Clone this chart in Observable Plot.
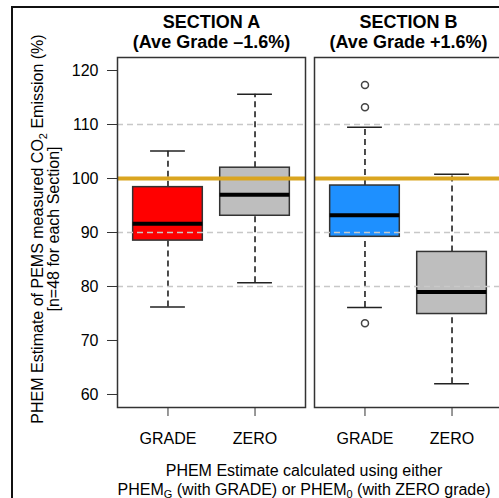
<!DOCTYPE html>
<html><head><meta charset="utf-8">
<script src="https://cdn.jsdelivr.net/npm/d3@7"></script>
<script src="https://cdn.jsdelivr.net/npm/@observablehq/plot@0.6"></script>
<style>
html,body{margin:0;padding:0;overflow:hidden;background:#fff;}
#wrap{position:relative;width:499px;height:498px;overflow:hidden;background:#fff;}
#outer{position:absolute;left:11px;top:6px;width:600px;height:600px;border-left:2px solid #111;border-top:2px solid #111;}
#wrap svg{max-width:none !important;}
</style></head><body><div id="wrap"><div id="outer"></div></div>
<script>
// ---- data ----
const sections = ["A", "B"];
const sectionTitleLine1 = ["SECTION A", "SECTION B"];
const sectionTitleLine2 = ["(Ave Grade \u20131.6%)", "(Ave Grade +1.6%)"];
const methods = ["GRADE", "ZERO"];
const boxSection = ["A", "A", "B", "B"];
const boxMethod = ["GRADE", "ZERO", "GRADE", "ZERO"];
const whiskerLow = [76.2, 80.7, 76.1, 62.0];
const quartile1 = [88.5, 93.1, 89.2, 74.9];
const medians = [91.6, 97.0, 93.2, 79.0];
const quartile3 = [98.4, 102.0, 98.7, 86.4];
const whiskerHigh = [105.1, 115.6, 109.5, 100.8];
const outlierSection = ["B", "B", "B"];
const outlierMethod = ["GRADE", "GRADE", "GRADE"];
const outlierValues = [117.3, 113.2, 73.2];
const yTicks = [60, 70, 80, 90, 100, 110, 120];
const gridLines = [80, 90, 110];
const referenceLine = [100];
const boxFills = ["#FF0000", "#BEBEBE", "#1E90FF", "#BEBEBE"];
const yLabelLines = ["PHEM Estimate of PEMS measured CO", "2", " Emission (%)", "[n=48 for each Section]"];
const captionLine1 = "PHEM Estimate calculated using either";
const captionLine2 = ["PHEM", "G", " (with GRADE) or PHEM", "0", " (with ZERO grade)"];

// ---- tables ----
const boxes = boxSection.map((s, i) => ({
  section: s, pos: methods.indexOf(boxMethod[i]) + 1,
  lo: whiskerLow[i], q1: quartile1[i], med: medians[i], q3: quartile3[i], hi: whiskerHigh[i],
  fill: boxFills[i]
}));
const outliers = outlierValues.map((v, i) => ({
  section: outlierSection[i], pos: methods.indexOf(outlierMethod[i]) + 1, value: v
}));
const titles = sections.map((s, i) => ({section: s, t1: sectionTitleLine1[i], t2: sectionTitleLine2[i]}));

const halfBox = 0.4, halfCap = 0.2;
const chart = Plot.plot({
  width: 510, height: 498,
  marginLeft: 116, marginRight: 8, marginTop: 57, marginBottom: 91,
  style: {fontFamily: "'Liberation Sans', Arial, sans-serif", fontSize: "16px", color: "#000", background: "transparent", maxWidth: "none"},
  fx: {domain: sections, paddingInner: 0.047, paddingOuter: 0, axis: null, label: null},
  x: {domain: [0.42, 2.58], axis: null},
  y: {domain: [57.59, 122.41], axis: null},
  marks: [
    Plot.ruleX(boxes, {fx: "section", x: "pos", y1: "q3", y2: "hi", stroke: "#000", strokeWidth: 1.4, strokeDasharray: "6,4"}),
    Plot.ruleX(boxes, {fx: "section", x: "pos", y1: "lo", y2: "q1", stroke: "#000", strokeWidth: 1.4, strokeDasharray: "6,4"}),
    Plot.ruleY(boxes, {fx: "section", y: "hi", x1: d => d.pos - halfCap, x2: d => d.pos + halfCap, stroke: "#222", strokeWidth: 1.5}),
    Plot.ruleY(boxes, {fx: "section", y: "lo", x1: d => d.pos - halfCap, x2: d => d.pos + halfCap, stroke: "#222", strokeWidth: 1.5}),
    Plot.rect(boxes, {fx: "section", x1: d => d.pos - halfBox, x2: d => d.pos + halfBox, y1: "q1", y2: "q3", fill: "fill", stroke: "#333", strokeWidth: 1.5}),
    Plot.ruleY(boxes, {fx: "section", y: "med", x1: d => d.pos - halfBox, x2: d => d.pos + halfBox, stroke: "#000", strokeWidth: 4}),
    Plot.dot(outliers, {fx: "section", x: "pos", y: "value", r: 3.5, stroke: "#444", strokeWidth: 1.5, fill: "none"}),
    Plot.ruleY(gridLines, {stroke: "#c8c8c8", strokeWidth: 1.5, strokeDasharray: "6,4"}),
    Plot.ruleY(referenceLine, {stroke: "#DAA520", strokeWidth: 4}),
    Plot.frame({stroke: "#333", strokeWidth: 1.5}),
    Plot.axisY(yTicks, {tickSize: 10, tickPadding: 9, label: null, stroke: "#333", fontSize: 16}),
    Plot.axisX([1, 2], {tickFormat: d => methods[d - 1], tickSize: 9, tickPadding: 16, label: null, stroke: "#333", fontSize: 16}),
    Plot.text(titles, {fx: "section", text: "t1", frameAnchor: "top", lineAnchor: "bottom", dy: -30, fontWeight: "bold", fontSize: 18}),
    Plot.text(titles, {fx: "section", text: "t2", frameAnchor: "top", lineAnchor: "bottom", dy: -10, fontWeight: "bold", fontSize: 18})
  ]
});
chart.style.position = "absolute";
chart.style.left = "0px";
chart.style.top = "0px";
chart.style.maxWidth = "none";
document.getElementById("wrap").appendChild(chart);

// ---- outer labels ----
const ov = d3.select("#wrap").append("svg")
  .attr("width", 499).attr("height", 498)
  .style("position", "absolute").style("left", "0px").style("top", "0px")
  .attr("font-family", "'Liberation Sans', Arial, sans-serif").attr("font-size", 16).attr("fill", "#000");

const yl1 = ov.append("text").attr("transform", "translate(43,229) rotate(-90)").attr("text-anchor", "middle");
yl1.append("tspan").text(yLabelLines[0]);
yl1.append("tspan").attr("dy", 4).attr("font-size", 11).text(yLabelLines[1]);
yl1.append("tspan").attr("dy", -4).text(yLabelLines[2]);
ov.append("text").attr("transform", "translate(59,229) rotate(-90)").attr("text-anchor", "middle").text(yLabelLines[3]);

ov.append("text").attr("x", 304).attr("y", 475.5).attr("text-anchor", "middle").text(captionLine1);
const c2 = ov.append("text").attr("x", 304).attr("y", 494.5).attr("text-anchor", "middle");
c2.append("tspan").text(captionLine2[0]);
c2.append("tspan").attr("dy", 3).attr("font-size", 11).text(captionLine2[1]);
c2.append("tspan").attr("dy", -3).text(captionLine2[2]);
c2.append("tspan").attr("dy", 3).attr("font-size", 11).text(captionLine2[3]);
c2.append("tspan").attr("dy", -3).text(captionLine2[4]);
</script></body></html>
